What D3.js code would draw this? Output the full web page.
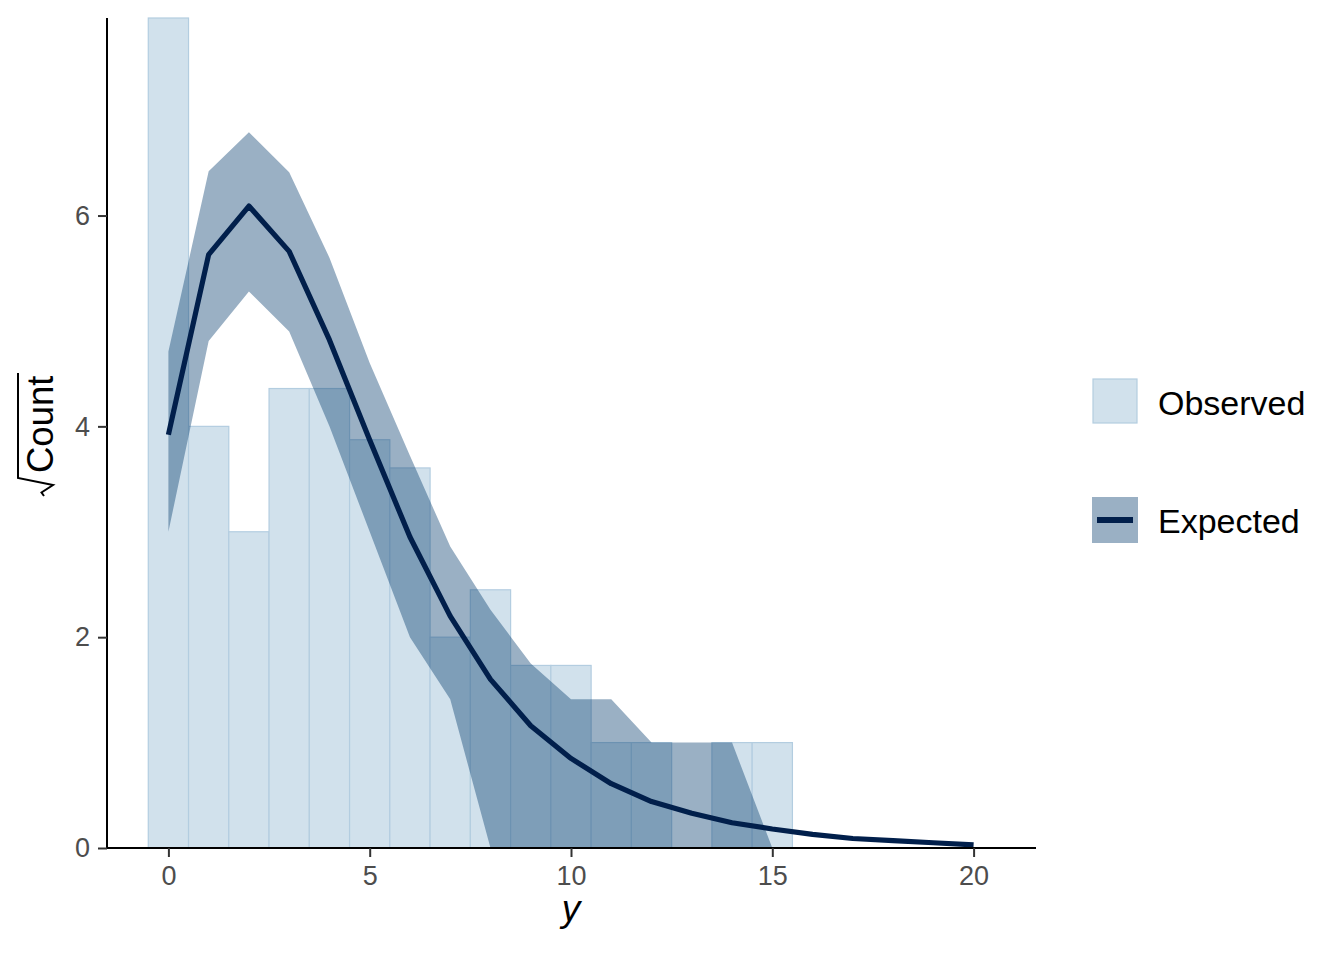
<!DOCTYPE html>
<html>
<head>
<meta charset="utf-8">
<script src="https://cdn.jsdelivr.net/npm/d3@7"></script>
<style>
  html, body { margin: 0; padding: 0; background: #fff; }
  svg { display: block; font-family: "Liberation Sans", Arial, Helvetica, sans-serif; }
</style>
</head>
<body>
<svg id="chart" width="1344" height="960"></svg>
<script>
// ---- data ----
const yValues = d3.range(0, 21);                       // expected support 0..20
const observedY = d3.range(0, 16);                     // observed bins 0..15
const observedCounts = [62, 16, 9, 19, 19, 15, 13, 4, 6, 3, 3, 1, 1, 0, 1, 1];
const expectedSqrt = [3.92, 5.63, 6.09, 5.66, 4.82, 3.87, 2.95, 2.2, 1.6, 1.16, 0.85, 0.61, 0.44, 0.33, 0.24, 0.18, 0.13, 0.09, 0.07, 0.05, 0.03];
const upperSqrt = [4.71, 6.42, 6.79, 6.41, 5.6, 4.6, 3.72, 2.86, 2.26, 1.75, 1.41, 1.41, 1.0, 1.0, 1.0, 0, 0, 0, 0, 0, 0];
const lowerSqrt = [3.0, 4.81, 5.28, 4.9, 4.0, 3.0, 2.0, 1.41, 0, 0, 0, 0, 0, 0, 0, 0, 0, 0, 0, 0, 0];
const xTicks = [0, 5, 10, 15, 20];
const yTicks = [0, 2, 4, 6];
const legendLabels = ["Observed", "Expected"];

// ---- colours (bayesplot "blue" scheme) ----
const cLight = "#d1e1ec", cLightHi = "#b3cde0", cDark = "#03396c", cDarkHi = "#011f4b";

const svg = d3.select("#chart");
const pLeft = 106, pRight = 1036, pTop = 18, pBottom = 848;

const obsSqrt = observedCounts.map(Math.sqrt);
const x = d3.scaleLinear().domain([-1.55, 21.55]).range([pLeft, pRight]);
const y = d3.scaleLinear().domain([0, d3.max(obsSqrt)]).range([pBottom, pTop]);

// observed bars
svg.append("g").selectAll("rect")
  .data(observedY.map((v, i) => ({ x: v, h: obsSqrt[i] })).filter(d => d.h > 0))
  .join("rect")
  .attr("x", d => x(d.x - 0.5))
  .attr("width", d => x(d.x + 0.5) - x(d.x - 0.5))
  .attr("y", d => y(d.h))
  .attr("height", d => y(0) - y(d.h))
  .attr("fill", cLight)
  .attr("stroke", cLightHi)
  .attr("stroke-width", 1.2);

// expected ribbon
const ribbonData = yValues.map((v, i) => ({ x: v, lo: lowerSqrt[i], hi: upperSqrt[i] }));
svg.append("path")
  .datum(ribbonData)
  .attr("d", d3.area().x(d => x(d.x)).y0(d => y(d.lo)).y1(d => y(d.hi)))
  .attr("fill", cDark)
  .attr("fill-opacity", 0.4);

// expected line
svg.append("path")
  .datum(yValues.map((v, i) => ({ x: v, y: expectedSqrt[i] })))
  .attr("d", d3.line().x(d => x(d.x)).y(d => y(d.y)))
  .attr("fill", "none")
  .attr("stroke", cDarkHi)
  .attr("stroke-width", 5.2)
  .attr("stroke-linejoin", "round");

// axes
const xAxis = svg.append("g").attr("transform", `translate(0,${pBottom})`)
  .call(d3.axisBottom(x).tickValues(xTicks).tickSize(9).tickPadding(9).tickFormat(d3.format("d")));
const yAxis = svg.append("g").attr("transform", `translate(${pLeft + 1},0)`)
  .call(d3.axisLeft(y).tickValues(yTicks).tickSize(9).tickPadding(8).tickFormat(d3.format("d")));
[xAxis, yAxis].forEach(a => {
  a.select(".domain").attr("stroke", "#000").attr("stroke-width", 2);
  a.selectAll(".tick line").attr("stroke", "#333").attr("stroke-width", 2);
  a.selectAll(".tick text").attr("fill", "#4d4d4d").attr("font-size", 27)
    .attr("font-family", "'Liberation Sans', Arial, sans-serif");
});
xAxis.select(".domain").attr("d", `M${pLeft},0H${pRight}`);
yAxis.select(".domain").attr("d", `M0,${pTop}V${pBottom}`);

// axis titles
svg.append("text")
  .attr("x", (pLeft + pRight) / 2).attr("y", 921)
  .attr("text-anchor", "middle")
  .attr("font-size", 37).attr("font-style", "italic")
  .text("y");

const yt = svg.append("g").attr("transform", "translate(53,473) rotate(-90)");
yt.append("text").attr("x", 0).attr("y", 0).attr("font-size", 36.5).text("Count");
yt.append("path")
  .attr("d", "M-23,-9 L-19.5,-11.5 L-12,0 L-5,-35 L100,-35")
  .attr("fill", "none").attr("stroke", "#000").attr("stroke-width", 2)
  .attr("stroke-linejoin", "miter");

// legend
const lg = svg.append("g");
lg.append("rect").attr("x", 1093).attr("y", 379).attr("width", 44).attr("height", 44)
  .attr("fill", cLight).attr("stroke", cLightHi).attr("stroke-width", 1.2);
lg.append("rect").attr("x", 1092).attr("y", 497).attr("width", 46).attr("height", 46)
  .attr("fill", cDark).attr("fill-opacity", 0.4);
lg.append("line").attr("x1", 1097).attr("x2", 1133).attr("y1", 520).attr("y2", 520)
  .attr("stroke", cDarkHi).attr("stroke-width", 6);
lg.selectAll("text.lab").data(legendLabels).join("text")
  .attr("class", "lab")
  .attr("x", 1158)
  .attr("y", (d, i) => i === 0 ? 415 : 533)
  .attr("font-size", 34)
  .attr("fill", "#000")
  .text(d => d);
</script>
</body>
</html>
